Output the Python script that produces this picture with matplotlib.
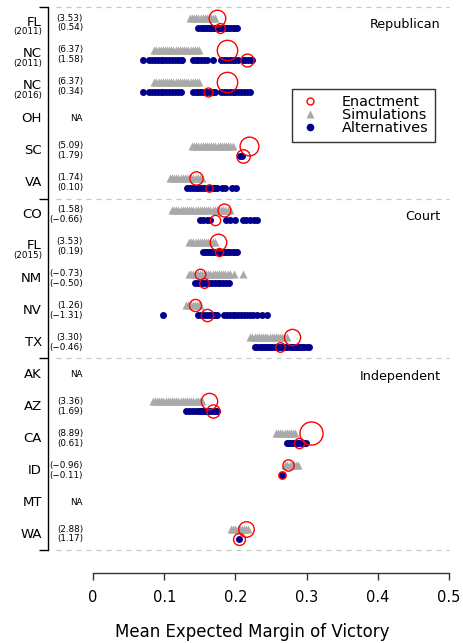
import numpy as np
import matplotlib
matplotlib.use("Agg")
import matplotlib.pyplot as plt
from matplotlib.transforms import blended_transform_factory
from matplotlib.lines import Line2D

# ---------------- data ----------------
states = ["FL", "NC", "NC", "OH", "SC", "VA", "CO", "FL", "NM", "NV", "TX",
          "AK", "AZ", "CA", "ID", "MT", "WA"]
years = ["2011", "2011", "2016", "", "", "", "", "2015", "", "", "",
         "", "", "", "", "", ""]
groups = ["Republican", "Court", "Independent"]
group_first_row = [0, 6, 11]

sim_z = ["3.53", "6.37", "6.37", None, "5.09", "1.74", "1.58", "3.53", "\u22120.73",
         "1.26", "3.30", None, "3.36", "8.89", "\u22120.96", None, "2.88"]
alt_z = ["0.54", "1.58", "0.34", None, "1.79", "0.10", "\u22120.66", "0.19", "\u22120.50",
         "\u22121.31", "\u22120.46", None, "1.69", "0.61", "\u22120.11", None, "1.17"]

enact_sim = [0.174, 0.188, 0.188, None, 0.219, 0.145, 0.184, 0.176, 0.150,
             0.143, 0.279, None, 0.163, 0.306, 0.274, None, 0.215]
enact_alt = [0.178, 0.216, 0.161, None, 0.210, 0.163, 0.172, 0.177, 0.156,
             0.160, 0.263, None, 0.169, 0.289, 0.265, None, 0.205]

fl11_sim = [0.136, 0.139, 0.142, 0.145, 0.148, 0.151, 0.154, 0.157, 0.160,
            0.163, 0.166, 0.169, 0.171]
nc11_sim = [0.086, 0.089, 0.092, 0.095, 0.098, 0.101, 0.104, 0.107, 0.110,
            0.113, 0.116, 0.119, 0.122, 0.125, 0.128, 0.131, 0.134, 0.137,
            0.140, 0.143, 0.146, 0.149]
nc16_sim = [0.086, 0.089, 0.092, 0.095, 0.098, 0.101, 0.104, 0.107, 0.110,
            0.113, 0.116, 0.119, 0.122, 0.125, 0.128, 0.131, 0.134, 0.137,
            0.140, 0.143, 0.146, 0.149]
sc_sim = [0.139, 0.142, 0.145, 0.148, 0.151, 0.154, 0.157, 0.160, 0.163,
          0.166, 0.169, 0.172, 0.175, 0.178, 0.181, 0.184, 0.187, 0.190,
          0.193, 0.196]
va_sim = [0.108, 0.111, 0.114, 0.117, 0.120, 0.123, 0.126, 0.129, 0.132,
          0.135, 0.138, 0.141, 0.144, 0.147, 0.150, 0.153]
co_sim = [0.111, 0.114, 0.117, 0.120, 0.123, 0.126, 0.129, 0.132, 0.135,
          0.138, 0.141, 0.144, 0.147, 0.150, 0.153, 0.156, 0.159, 0.162,
          0.165, 0.168, 0.171, 0.174, 0.177, 0.180, 0.183, 0.186, 0.189, 0.192]
fl15_sim = [0.135, 0.138, 0.141, 0.144, 0.147, 0.150, 0.153, 0.156, 0.159,
            0.162, 0.165, 0.168, 0.171]
nm_sim = [0.135, 0.138, 0.141, 0.144, 0.147, 0.150, 0.153, 0.156, 0.159,
          0.162, 0.165, 0.168, 0.171, 0.174, 0.177, 0.180, 0.183, 0.186,
          0.189, 0.192, 0.198, 0.211]
nv_sim = [0.131, 0.134, 0.137, 0.140, 0.143, 0.146, 0.149, 0.150]
tx_sim = [0.221, 0.224, 0.227, 0.230, 0.233, 0.236, 0.239, 0.242, 0.245,
          0.248, 0.251, 0.254, 0.257, 0.260, 0.263, 0.266, 0.269, 0.272]
az_sim = [0.084, 0.087, 0.090, 0.093, 0.096, 0.099, 0.102, 0.105, 0.108,
          0.111, 0.114, 0.117, 0.120, 0.123, 0.126, 0.129, 0.132, 0.135,
          0.138, 0.141, 0.144, 0.147, 0.150, 0.153]
ca_sim = [0.257, 0.260, 0.263, 0.266, 0.269, 0.272, 0.275, 0.278, 0.281, 0.284]
id_sim = [0.270, 0.273, 0.276, 0.279, 0.282, 0.285, 0.288]
wa_sim = [0.194, 0.197, 0.200, 0.203, 0.206, 0.209, 0.212, 0.215, 0.218]

fl11_alt = [0.148, 0.151, 0.154, 0.157, 0.160, 0.163, 0.166, 0.169, 0.172,
            0.175, 0.178, 0.181, 0.184, 0.187, 0.190, 0.193, 0.196, 0.199, 0.202]
nc11_alt = [0.070, 0.079, 0.083, 0.087, 0.091, 0.095, 0.099, 0.103, 0.107,
            0.111, 0.115, 0.119, 0.123, 0.125, 0.140, 0.144, 0.148, 0.152,
            0.156, 0.160, 0.169, 0.180, 0.184, 0.188, 0.192, 0.196, 0.200,
            0.204, 0.210, 0.214, 0.218, 0.222, 0.224]
nc16_alt = [0.070, 0.079, 0.083, 0.087, 0.091, 0.095, 0.099, 0.103, 0.107,
            0.111, 0.115, 0.119, 0.123, 0.140, 0.144, 0.148, 0.152, 0.156,
            0.160, 0.164, 0.168, 0.171, 0.180, 0.184, 0.188, 0.192, 0.196,
            0.200, 0.204, 0.208, 0.212, 0.216, 0.220]
sc_alt = [0.207, 0.209]
va_alt = [0.132, 0.136, 0.140, 0.144, 0.148, 0.152, 0.156, 0.160, 0.164,
          0.168, 0.172, 0.174, 0.181, 0.186, 0.195, 0.201]
co_alt = [0.150, 0.155, 0.160, 0.165, 0.187, 0.193, 0.200, 0.210, 0.215,
          0.220, 0.226, 0.231]
fl15_alt = [0.154, 0.157, 0.160, 0.163, 0.166, 0.169, 0.172, 0.175, 0.178,
            0.181, 0.184, 0.187, 0.190, 0.193, 0.196, 0.199, 0.202]
nm_alt = [0.143, 0.147, 0.151, 0.155, 0.159, 0.163, 0.167, 0.171, 0.175,
          0.179, 0.183, 0.187, 0.191]
nv_alt = [0.098, 0.148, 0.152, 0.156, 0.160, 0.164, 0.168, 0.172, 0.174,
          0.184, 0.188, 0.192, 0.196, 0.200, 0.204, 0.208, 0.212, 0.216,
          0.220, 0.225, 0.231, 0.238, 0.244]
tx_alt = [0.228, 0.231, 0.234, 0.237, 0.240, 0.243, 0.246, 0.249, 0.252,
          0.255, 0.258, 0.261, 0.264, 0.267, 0.270, 0.273, 0.276, 0.279,
          0.282, 0.285, 0.288, 0.291, 0.294, 0.297, 0.300, 0.303]
az_alt = [0.131, 0.135, 0.139, 0.143, 0.147, 0.150, 0.153, 0.156, 0.159,
          0.162, 0.165, 0.168, 0.171, 0.174]
ca_alt = [0.272, 0.275, 0.278, 0.281, 0.284, 0.287, 0.290, 0.293, 0.296, 0.299]
id_alt = [0.265]
wa_alt = [0.205]

sim_values = [fl11_sim, nc11_sim, nc16_sim, [], sc_sim, va_sim, co_sim, fl15_sim,
              nm_sim, nv_sim, tx_sim, [], az_sim, ca_sim, id_sim, [], wa_sim]
alt_values = [fl11_alt, nc11_alt, nc16_alt, [], sc_alt, va_alt, co_alt, fl15_alt,
              nm_alt, nv_alt, tx_alt, [], az_alt, ca_alt, id_alt, [], wa_alt]

xticks = [0, 0.1, 0.2, 0.3, 0.4, 0.5]
xticklabels = ["0", "0.1", "0.2", "0.3", "0.4", "0.5"]

# ---------------- style ----------------
W, H = 464, 643
DPI = 100
PT = 72.0 / DPI
GRAY = "#A9A9A9"
NAVY = "#00008B"
RED = "#FF0000"
OFF = 0.155


def z_to_float(s):
    return float(s.replace("\u2212", "-"))


def circ_ms(z):
    d_px = 5.5 + 5.9 * np.sqrt(abs(z_to_float(z)))
    return d_px * PT


fig = plt.figure(figsize=(W / DPI, H / DPI), dpi=DPI)
ax = fig.add_axes([56 / W, 1 - 550 / H, (449 - 56) / W, 543 / H])

n = len(states)
ax.set_xlim((56 - 93) / 712.0, 0.5)
ax.set_ylim(n - 0.5, -0.5)

for i in range(n):
    if sim_values[i]:
        ax.plot(sim_values[i], [i - OFF] * len(sim_values[i]), ls="none",
                marker="^", ms=5.3, color=GRAY, mec="none", zorder=2)
    if alt_values[i]:
        ax.plot(alt_values[i], [i + OFF] * len(alt_values[i]), ls="none",
                marker="o", ms=5.0, color=NAVY, mec="none", zorder=3)
    if enact_sim[i] is not None:
        ax.plot([enact_sim[i]], [i - OFF], ls="none", marker="o",
                ms=circ_ms(sim_z[i]), mfc="none", mec=RED, mew=1.0, zorder=4)
        ax.plot([enact_alt[i]], [i + OFF], ls="none", marker="o",
                ms=circ_ms(alt_z[i]), mfc="none", mec=RED, mew=1.0, zorder=4)

# separators
seps = [-0.5]
for g in group_first_row[1:]:
    seps.append(g - 0.5)
seps.append(n - 0.5)
for s in seps:
    ax.axhline(s, color="#C8C8C8", lw=0.9, ls=(0, (4, 4)), clip_on=False, zorder=1)

# left labels
tr_left = blended_transform_factory(fig.transFigure, ax.transData)
for i in range(n):
    if years[i]:
        ax.text(42 / W, i - 0.03, states[i], transform=tr_left, ha="right",
                va="center", fontsize=9.5)
        ax.text(42 / W, i + 0.28, "(" + years[i] + ")", transform=tr_left,
                ha="right", va="center", fontsize=6.3)
    else:
        ax.text(42 / W, i, states[i], transform=tr_left, ha="right",
                va="center", fontsize=9.5)
    if sim_z[i] is None:
        ax.text(83 / W, i, "NA", transform=tr_left, ha="right", va="center",
                fontsize=6.3)
    else:
        ax.text(83 / W, i - OFF, "(" + sim_z[i] + ")", transform=tr_left,
                ha="right", va="center", fontsize=6.3)
        ax.text(83 / W, i + OFF, "(" + alt_z[i] + ")", transform=tr_left,
                ha="right", va="center", fontsize=6.3)

# group labels
for g, r in zip(groups, group_first_row):
    ax.text(441 / W, r + 0.06, g, transform=tr_left, ha="right", va="center",
            fontsize=9.2)

# axes styling
for sp in ["top", "right"]:
    ax.spines[sp].set_visible(False)
ax.spines["left"].set_position(("outward", 8 * PT))
ax.spines["left"].set_bounds(n - 0.5, -0.5)
ax.spines["bottom"].set_position(("outward", 23 * PT))
ax.spines["bottom"].set_bounds(0, 0.5)
ax.spines["left"].set_linewidth(1.0)
ax.spines["bottom"].set_linewidth(1.0)
ax.spines["bottom"].set_color("#333333")

ax.set_yticks(seps)
ax.set_yticklabels([])
ax.tick_params(axis="y", length=6.5, width=1.0, direction="out")
ax.set_xticks(xticks)
ax.set_xticklabels(xticklabels, fontsize=10.5)
ax.tick_params(axis="x", length=5, width=1.0, direction="out", pad=7,
               color="#333333")
ax.set_xlabel("Mean Expected Margin of Victory", fontsize=12, labelpad=13)

handles = [
    Line2D([], [], ls="none", marker="o", ms=5, mfc="none", mec=RED, mew=1.0),
    Line2D([], [], ls="none", marker="^", ms=5.5, color=GRAY, mec="none"),
    Line2D([], [], ls="none", marker="o", ms=5.5, color=NAVY, mec="none"),
]
leg = ax.legend(handles, ["Enactment", "Simulations", "Alternatives"],
                loc="upper right",
                bbox_to_anchor=((435 - 56) / 393, 1 - (89 - 7) / 543),
                borderaxespad=0, frameon=True, fancybox=False, fontsize=10.4,
                handlelength=1.6, handletextpad=1.4, labelspacing=-0.08,
                borderpad=0.45)
leg.get_frame().set_edgecolor("black")
leg.get_frame().set_linewidth(1.0)

fig.savefig("out.png", dpi=DPI)
